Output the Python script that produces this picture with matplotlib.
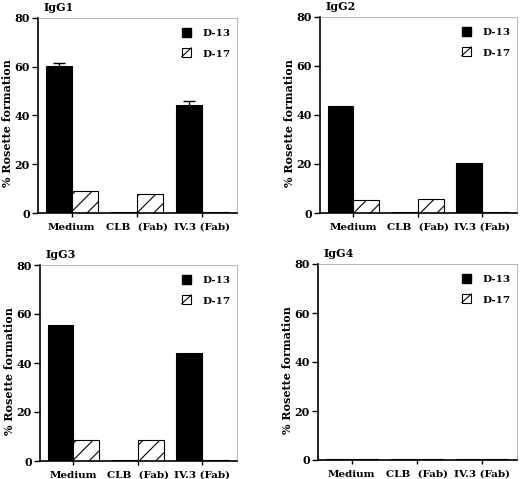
import numpy as np
import matplotlib.pyplot as plt
from matplotlib.patches import Patch, Rectangle
from matplotlib.lines import Line2D

# Data
groups = ['Medium', 'CLB  (Fab)', 'IV.3 (Fab)']
panels = ['IgG1', 'IgG2', 'IgG3', 'IgG4']
d13 = {'IgG1': [60.5, 0.5, 44.5],
       'IgG2': [43.5, 0.5, 20.5],
       'IgG3': [55.5, 0.5, 44.0],
       'IgG4': [0.3, 0.3, 0.3]}
d13_err = {'IgG1': [1.2, 0, 1.3]}
d17 = {'IgG1': [9.0, 8.0, 0.5],
       'IgG2': [5.5, 5.7, 0.5],
       'IgG3': [8.5, 8.5, 0.5],
       'IgG4': [0.3, 0.3, 0.3]}
yticks = [0, 20, 40, 60, 80]

plt.rcParams['font.family'] = 'DejaVu Serif'
plt.rcParams['font.weight'] = 'bold'
plt.rcParams['hatch.linewidth'] = 0.8


class HatchBoxHandler:
    # white box with one diagonal stroke, like the printed legend key
    def legend_artist(self, legend, orig_handle, fontsize, handlebox):
        x0, y0 = handlebox.xdescent, handlebox.ydescent
        w, h = handlebox.width, handlebox.height
        box = Rectangle((x0, y0), w, h, facecolor='white', edgecolor='black',
                        linewidth=0.8, transform=handlebox.get_transform())
        diag = Line2D([x0, x0 + w], [y0, y0 + h], color='black',
                      linewidth=0.8, transform=handlebox.get_transform())
        handlebox.add_artist(box)
        handlebox.add_artist(diag)
        return box


fig = plt.figure(figsize=(5.2, 4.79), dpi=100)
W, H = 520, 479
# axes boxes in pixels: left, top, right, bottom
boxes = [(38, 18, 237, 213), (320, 17, 517, 213),
         (40, 265, 237, 461), (318, 264, 517, 460)]

x = np.arange(len(groups))
bw = 0.4
for name, (l, t, r, b) in zip(panels, boxes):
    ax = fig.add_axes([l / W, 1 - b / H, (r - l) / W, (b - t) / H])
    err = d13_err.get(name)
    ax.bar(x - bw / 2, d13[name], bw, color='black', edgecolor='black',
           linewidth=0.8)
    if err is not None:
        ax.errorbar(x[[0, 2]] - bw / 2, np.array(d13[name])[[0, 2]],
                    yerr=np.array(err)[[0, 2]], fmt='none', ecolor='black',
                    capsize=4, elinewidth=1, capthick=1)
    ax.bar(x + bw / 2, d17[name], bw, color='white', edgecolor='black',
           linewidth=0.8, hatch='//')
    ax.set_xlim(-0.52, 2.54)
    ax.set_ylim(0, 80)
    ax.set_yticks(yticks)
    ax.set_xticks(x)
    ax.set_xticklabels(groups, fontsize=7.5, fontweight='bold')
    ax.tick_params(axis='x', length=3, width=1, pad=4)
    ax.tick_params(axis='y', length=4, width=1, labelsize=8, pad=2)
    for lab in ax.get_yticklabels():
        lab.set_fontweight('bold')
    ax.spines['left'].set_linewidth(1.2)
    ax.spines['bottom'].set_linewidth(1.2)
    for s in ('top', 'right'):
        ax.spines[s].set_linewidth(0.5)
        ax.spines[s].set_color('#999999')
    ax.set_ylabel('% Rosette formation', fontsize=8, fontweight='bold')
    ax.yaxis.set_label_coords(-25 / (r - l), 0.46)
    ax.text(0.03, 1 + 7 / (b - t), name, transform=ax.transAxes,
            fontsize=8, fontweight='bold', ha='left', va='baseline')
    h13 = Patch(facecolor='black', edgecolor='black', label='D-13')
    h17 = Patch(facecolor='white', edgecolor='black', label='D-17')
    ax.legend(handles=[h13, h17], loc='upper right', frameon=False,
              prop={'weight': 'bold', 'size': 7.5},
              handler_map={h17: HatchBoxHandler()},
              handlelength=0.9, handleheight=0.9, labelspacing=1.1,
              handletextpad=1.1, borderaxespad=0.0,
              bbox_to_anchor=(0.99, 0.97))

fig.savefig('out.png', dpi=100)
